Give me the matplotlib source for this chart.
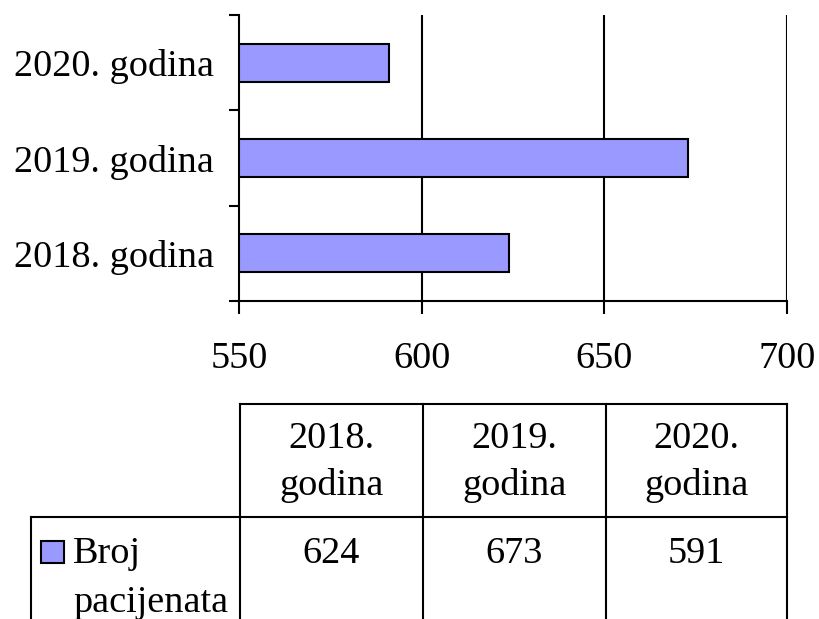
import matplotlib
matplotlib.use("Agg")
import matplotlib.pyplot as plt
from matplotlib.patches import Rectangle
from matplotlib.lines import Line2D

categories = ["2018. godina", "2019. godina", "2020. godina"]
header_labels = ["2018.\ngodina", "2019.\ngodina", "2020.\ngodina"]
series_name = "Broj\npacijenata"
values = [624, 673, 591]
xticks = [550, 600, 650, 700]

BAR = "#9999FF"
FONT = "Liberation Serif"
FS = 27.5

W, H = 820, 619
fig = plt.figure(figsize=(W / 100, H / 100), dpi=100)

def fx(px):
    return px / W

def fy(py):
    return 1 - py / H

ax = fig.add_axes([fx(239), fy(301), fx(787) - fx(239), fy(15) - fy(301)])
ypos = list(range(len(categories)))
ax.barh(ypos, [v - xticks[0] for v in values], height=0.4, left=xticks[0], color=BAR,
        edgecolor="black", linewidth=1.5, zorder=3)
ax.set_xlim(xticks[0], xticks[-1])
ax.set_ylim(-0.5, len(categories) - 0.5)
ax.set_xticks(xticks)
ax.set_xticklabels([str(t) for t in xticks], fontfamily=FONT, fontsize=FS)
ax.set_yticks([i - 0.5 for i in range(len(categories) + 1)])
ax.set_yticklabels([])
ax.set_yticks(ypos, minor=True)
ax.set_yticklabels(categories, minor=True, fontfamily=FONT, fontsize=FS)
ax.tick_params(axis="y", which="major", length=7, width=1.5, direction="out")
ax.tick_params(axis="y", which="minor", length=0, pad=18)
ax.tick_params(axis="x", which="major", length=9, width=1.5, direction="out", pad=20)
for t in xticks[1:]:
    ax.axvline(t, color="black", linewidth=1.5, zorder=1)
for s in ["top", "right"]:
    ax.spines[s].set_visible(False)
for s in ["left", "bottom"]:
    ax.spines[s].set_linewidth(1.5)

# data table drawn below the chart
col_x = [240, 423, 606, 787]
top_y, mid_y, bot_y = 404, 517, 625
lw = 1.5
def hline(x0, x1, y):
    fig.add_artist(Line2D([fx(x0), fx(x1)], [fy(y), fy(y)], color="black", linewidth=lw))
def vline(x, y0, y1):
    fig.add_artist(Line2D([fx(x), fx(x)], [fy(y0), fy(y1)], color="black", linewidth=lw))

hline(col_x[0], col_x[-1], top_y)
hline(31, col_x[-1], mid_y)
for x in col_x:
    vline(x, top_y, bot_y)
vline(31, mid_y, bot_y)

for i, (lab, v) in enumerate(zip(header_labels, values)):
    cx = (col_x[i] + col_x[i + 1]) / 2
    for j, line in enumerate(lab.split("\n")):
        fig.text(fx(cx), fy(448 + 47 * j), line, ha="center", va="baseline",
                 fontfamily=FONT, fontsize=FS)
    fig.text(fx(cx), fy(563), str(v), ha="center", va="baseline", fontfamily=FONT, fontsize=FS)

fig.add_artist(Rectangle((fx(41), fy(563)), fx(64) - fx(41), fy(541) - fy(563),
                         facecolor=BAR, edgecolor="black", linewidth=1.5))
for j, line in enumerate(series_name.split("\n")):
    fig.text(fx(73), fy(563 + 49 * j), line, ha="left", va="baseline", fontfamily=FONT,
             fontsize=FS)

fig.savefig("out.png", dpi=100)
